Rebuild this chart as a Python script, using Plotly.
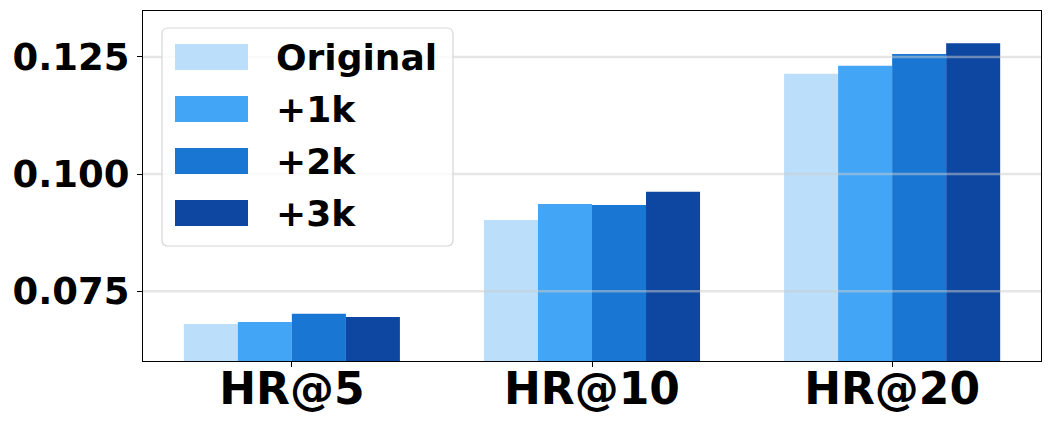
import plotly.graph_objects as go

categories = ["HR@5", "HR@10", "HR@20"]
series_names = ["Original", "+1k", "+2k", "+3k"]
original = [0.0680, 0.0902, 0.1214]
plus_1k = [0.0684, 0.0936, 0.1231]
plus_2k = [0.0702, 0.0934, 0.1256]
plus_3k = [0.0695, 0.0962, 0.1279]
y_ticks = [0.075, 0.100, 0.125]
y_tick_labels = ["0.075", "0.100", "0.125"]

colors = ["#BBDEFB", "#42A5F5", "#1976D2", "#0D47A1"]
font_family = "DejaVu Sans"

# the page body adds an 8px margin, so the figure is a bit smaller than the window
OFF = 8
W, H = 1051 - 2 * OFF, 424 - 2 * OFF
# plot area in window pixels
SL, SR, ST, SB = 143, 1041, 11, 361
L, T = SL - OFF, ST - OFF
R, B = W - (SR - OFF), H - (SB - OFF)
PW, PH = SR - SL, SB - ST


def px_x(px):
    return (px - SL) / PW


def px_y(py):
    return (SB - py) / PH


fig = go.Figure()
bar_w = 0.18
offsets = [-1.5 * bar_w, -0.5 * bar_w, 0.5 * bar_w, 1.5 * bar_w]
for name, vals, col, off in zip(series_names, [original, plus_1k, plus_2k, plus_3k], colors, offsets):
    fig.add_trace(go.Bar(
        x=list(range(len(categories))),
        y=vals,
        name=name,
        width=bar_w,
        offset=off - bar_w / 2,
        marker=dict(color=col, line=dict(width=0)),
        showlegend=False,
    ))

shapes = []
# grid lines drawn over bars, like the original
for t in y_ticks:
    shapes.append(dict(type="line", xref="paper", yref="y", x0=0, x1=1, y0=t, y1=t,
                       line=dict(color="rgba(205,205,205,0.5)", width=2.5), layer="above"))

# hand-drawn legend box (big swatches)
x0, x1, y0, y1, r = 162, 453, 28, 246, 6
path = (f"M {px_x(x0 + r)},{px_y(y0)} L {px_x(x1 - r)},{px_y(y0)} "
        f"Q {px_x(x1)},{px_y(y0)} {px_x(x1)},{px_y(y0 + r)} "
        f"L {px_x(x1)},{px_y(y1 - r)} Q {px_x(x1)},{px_y(y1)} {px_x(x1 - r)},{px_y(y1)} "
        f"L {px_x(x0 + r)},{px_y(y1)} Q {px_x(x0)},{px_y(y1)} {px_x(x0)},{px_y(y1 - r)} "
        f"L {px_x(x0)},{px_y(y0 + r)} Q {px_x(x0)},{px_y(y0)} {px_x(x0 + r)},{px_y(y0)} Z")
shapes.append(dict(type="path", xref="paper", yref="paper", path=path,
                   fillcolor="rgba(255,255,255,0.8)", line=dict(color="#d6d6d6", width=1.2),
                   layer="above"))
annotations = []
for i, (name, col) in enumerate(zip(series_names, colors)):
    cy = 57 + 52 * i
    shapes.append(dict(type="rect", xref="paper", yref="paper",
                       x0=px_x(175), x1=px_x(248), y0=px_y(cy - 13), y1=px_y(cy + 13),
                       fillcolor=col, line=dict(width=0), layer="above"))
    annotations.append(dict(xref="paper", yref="paper", x=px_x(274), y=px_y(cy),
                            xanchor="left", yanchor="middle", showarrow=False,
                            text=f"<b>{name}</b>",
                            font=dict(family=font_family, size=36, color="black")))

fig.update_layout(
    width=W, height=H,
    margin=dict(l=L, r=R, t=T, b=B, autoexpand=False),
    paper_bgcolor="white", plot_bgcolor="white",
    barmode="overlay",
    shapes=shapes,
    annotations=annotations,
    font=dict(family=font_family, color="black"),
    xaxis=dict(
        range=[-0.496, 2.496],
        tickvals=list(range(len(categories))),
        ticktext=[f"<b>{c}</b>" for c in categories],
        tickfont=dict(family=font_family, size=44, color="black"),
        ticks="outside", ticklen=5, tickcolor="black",
        ticklabelstandoff=-16,
        showline=True, linecolor="black", linewidth=1, mirror=True,
        showgrid=False, zeroline=False, automargin=False,
    ),
    yaxis=dict(
        range=[0.0601, 0.1348],
        tickvals=y_ticks,
        ticktext=[f"<b>{t}</b>" for t in y_tick_labels],
        tickfont=dict(family=font_family, size=37, color="black"),
        ticks="outside", ticklen=5, tickcolor="black",
        showline=True, linecolor="black", linewidth=1, mirror=True,
        showgrid=False, zeroline=False, automargin=False,
    ),
)

fig.write_html("out.html")
